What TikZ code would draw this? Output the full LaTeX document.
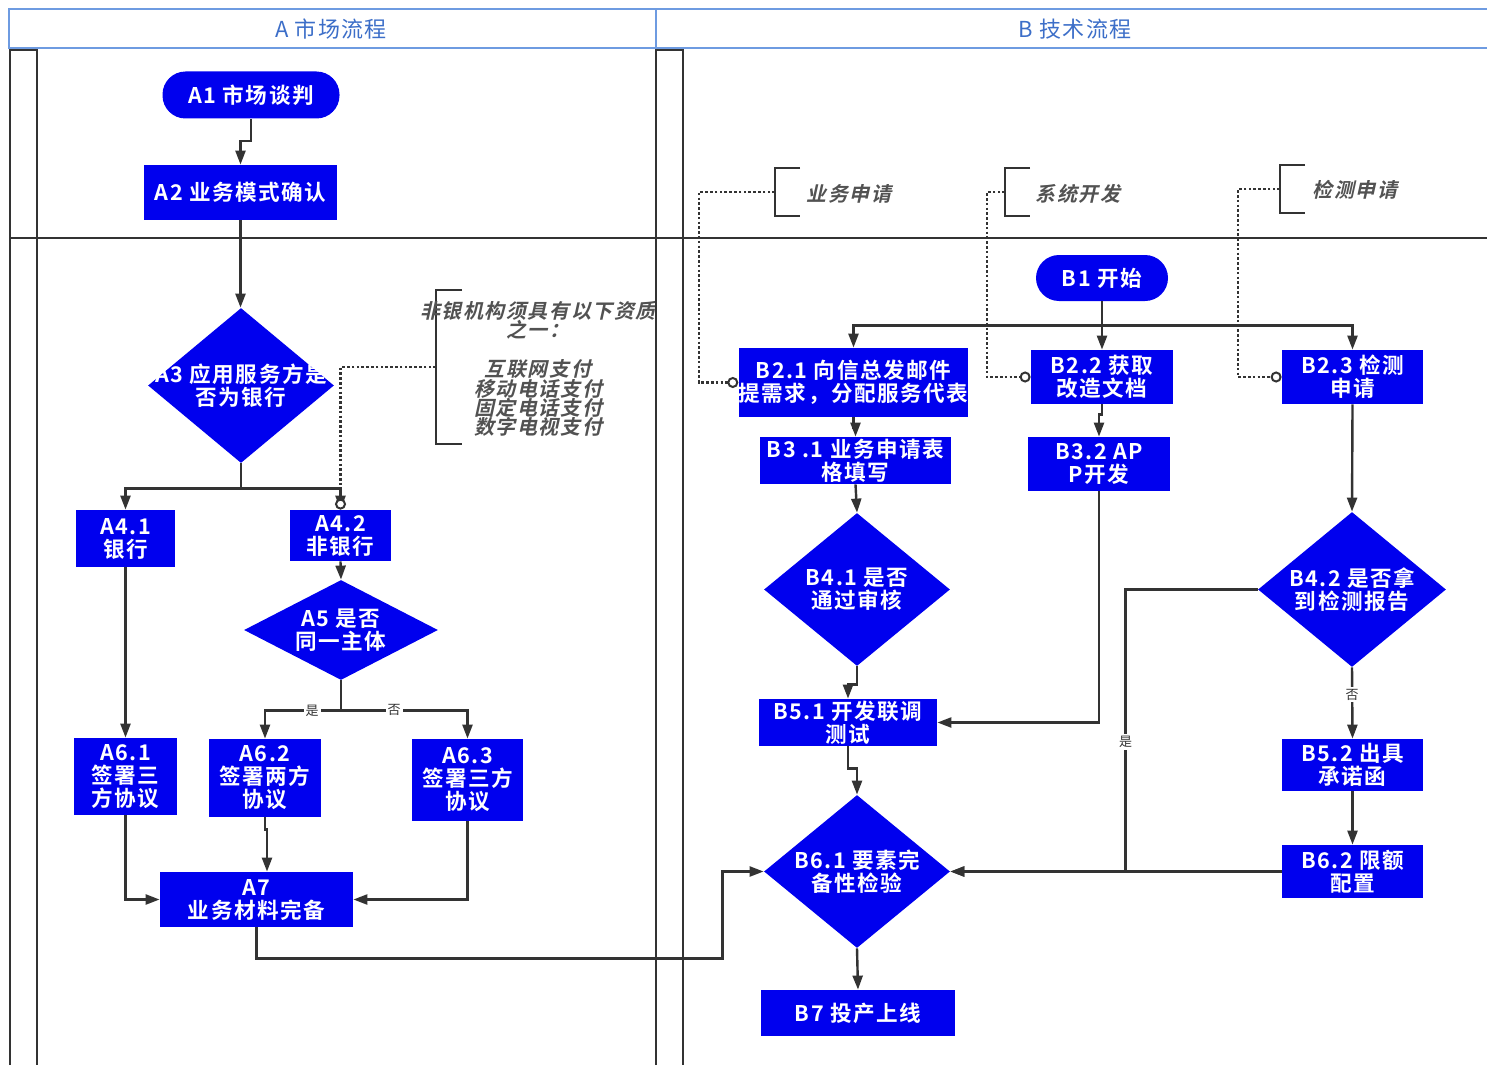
\documentclass[tikz,border=0pt]{standalone}
\usepackage{fontspec}
\setmainfont{Noto Sans CJK SC}
\newfontfamily\boxfont[LetterSpace=7]{Noto Sans CJK SC Bold}
\newfontfamily\notefont[FakeSlant=0.22,LetterSpace=8]{Noto Sans CJK SC Bold}
\newfontfamily\headfont[LetterSpace=6]{Noto Sans CJK SC}
\usetikzlibrary{calc,shapes.geometric,arrows.meta}
\definecolor{boxblue}{RGB}{0,0,238}
\definecolor{headblue}{RGB}{110,155,225}
\definecolor{headtext}{RGB}{60,110,200}
\definecolor{linegray}{RGB}{51,51,51}

\begin{document}
\begin{tikzpicture}[x=0.5pt,y=-0.5pt,
		proc/.style 2 args={rectangle, fill=boxblue, text=white, font=\boxfont\fontsize{10.8}{11.5}\selectfont,
			align=center, inner sep=0pt, minimum width=#1*0.5pt, minimum height=#2*0.5pt},
		term/.style 2 args={proc={#1}{#2}, rounded corners=11.5pt},
		dec/.style 2 args={diamond, fill=boxblue, inner sep=0pt, minimum width=#1*0.5pt, minimum height=#2*0.5pt},
		dtext/.style={text=white, font=\boxfont\fontsize{10.8}{11.5}\selectfont, align=center},
		arr/.style={draw=linegray, line width=1.2pt, -{Triangle[length=7pt,width=5pt]}},
		dots/.style={draw=linegray, line width=1.3pt, dash pattern=on 1.3pt off 1.1pt,
			-{Circle[open,fill=white,length=5.5pt,line width=1pt]}},
		brk/.style={draw=linegray, line width=1.4pt},
		note/.style={text=linegray!85, font=\notefont\fontsize{10}{9.7}\selectfont, align=center},
		yn/.style={fill=white, inner sep=1pt, text=linegray, font=\fontsize{6.5}{6.5}\selectfont},
		lane/.style={draw=linegray, line width=1.1pt}]
		\useasboundingbox (0,0) rectangle (1487,1065);

		% header and pool
		\draw[headblue, line width=0.8pt] (1487,9) -- (9,9) -- (9,48) -- (1487,48);
		\draw[headblue, line width=0.8pt] (656,9) -- (656,48);
		\node[text=headtext, font=\headfont\fontsize{11}{11}\selectfont] (hA) at (331,29) {A 市场流程};
		\node[text=headtext, font=\headfont\fontsize{11}{11}\selectfont] (hB) at (1075,29) {B 技术流程};
		\draw[lane] (10,1065) -- (10,50) -- (37,50) -- (37,1065);
		\draw[lane] (656,1065) -- (656,50) -- (683,50) -- (683,1065);
		\draw[lane] (10,238) -- (1487,238);

		% market lane
		\node[term={177}{47}] (A1) at (251,95) {A1 市场谈判};
		\node[proc={193}{55}] (A2) at (240.5,192.5) {A2 业务模式确认};
		\node[dec={186}{155}, label={[dtext]center:A3 应用服务方是\\否为银行}] (A3) at (241,385.5) {};
		\node[proc={99}{57}] (A41) at (125.5,538.5) {A4.1\\银行};
		\node[proc={101}{51}] (A42) at (340.5,535.5) {A4.2\\非银行};
		\node[dec={194}{100}, label={[dtext]center:A5 是否\\同一主体}] (A5) at (341,630) {};
		\node[proc={103}{77}] (A61) at (125.5,776.5) {A6.1\\签署三\\方协议};
		\node[proc={112}{78}] (A62) at (265,778) {A6.2\\签署两方\\协议};
		\node[proc={111}{82}] (A63) at (467.5,780) {A6.3\\签署三方\\协议};
		\node[proc={193}{55}] (A7) at (256.5,899.5) {A7\\业务材料完备};

		\coordinate (nA) at (436,367);
		\draw[brk] ($(nA)+(26,-77)$) -- ++(-26,0) -- ++(0,154) -- ++(26,0);
		\begin{scope}
			\clip (380,280) rectangle (654,460);
			\node[note] (tA) at (538,369) {非银机构须具有以下资质\\之一：\\~\\互联网支付\\移动电话支付\\固定电话支付\\数字电视支付};
		\end{scope}

		\draw[arr] (A1.south) -- ++(0,22) -| (A2.north);
		\draw[arr] (A2.south) -- (A2.south |- A3.north);
		\draw[arr] (A3.south) -- ++(0,25) coordinate (a3s) -| (A41.north);
		\draw[arr] (a3s) -| (A42.north);
		\draw[dots] (nA) -| (A42.north);
		\draw[arr] (A42.south) -- (A5.north);
		\draw[arr] (A41.south) -- (A61.north);
		\draw[arr] (A5.south) -- ++(0,30) coordinate (a5s) -| node[yn, pos=0.19] (y1) {是} (A62.north);
		\draw[arr] (a5s) -| node[yn, pos=0.21] (n1) {否} (A63.north);
		\draw[arr] (A61.south) |- (A7.west);
		\draw[arr] (A62.south) -- ++(0,12) -| ([xshift=1pt]A62.south |- A7.north);
		\draw[arr] (A63.south) |- (A7.east);

		% tech lane
		\node[term={132}{46}] (B1) at (1102,278) {B1 开始};
		\node[proc={225}{69}] (B21) at (853.5,382.5) {B2.1 向信总发邮件\\提需求，分配服务代表};
		\node[proc={142}{54}] (B22) at (1102,377) {B2.2 获取\\改造文档};
		\node[proc={141}{54}] (B23) at (1352.5,377) {B2.3 检测\\申请};
		\node[proc={191}{47}] (B31) at (855.5,460.5) {B3 .1 业务申请表\\格填写};
		\node[proc={142}{54}] (B32) at (1099,464) {B3.2 AP\\P开发};
		\node[dec={186}{153}, label={[dtext]center:B4.1 是否\\通过审核}] (B41) at (857,589.5) {};
		\node[dec={188}{155}, label={[dtext]center:B4.2 是否拿\\到检测报告}] (B42) at (1352,589.5) {};
		\node[proc={178}{47}] (B51) at (848,722.5) {B5.1 开发联调\\测试};
		\node[proc={141}{52}] (B52) at (1352.5,765) {B5.2 出具\\承诺函};
		\node[dec={186}{153}, label={[dtext]center:B6.1 要素完\\备性检验}] (B61) at (857,871.5) {};
		\node[proc={141}{53}] (B62) at (1352.5,871.5) {B6.2 限额\\配置};
		\node[proc={194}{46}] (B7) at (858,1013) {B7 投产上线};

		\coordinate (nB1) at (775,192);
		\coordinate (nB2) at (1005,192);
		\coordinate (nB3) at (1280,189);
		\draw[brk] ($(nB1)+(25,-24)$) -- ++(-25,0) -- ++(0,48) -- ++(25,0);
		\draw[brk] ($(nB2)+(25,-24)$) -- ++(-25,0) -- ++(0,48) -- ++(25,0);
		\draw[brk] ($(nB3)+(25,-24)$) -- ++(-25,0) -- ++(0,48) -- ++(25,0);
		\node[note] (tB1) at (849,194) {业务申请};
		\node[note] (tB2) at (1078,194) {系统开发};
		\node[note] (tB3) at (1355,190) {检测申请};
		\draw[dots] (nB1) -- ++(-76,0) |- (B21.west);
		\draw[dots] (nB2) -- ++(-18,0) |- (B22.west);
		\draw[dots] (nB3) -- ++(-42,0) |- (B23.west);

		\draw[arr] (B1.south) -- ++(0,24) coordinate (b1s) -| (B21.north);
		\draw[arr] (b1s) -- (B22.north);
		\draw[arr] (b1s) -| (B23.north);
		\draw[arr] (B21.south) -- ++(0,10) -| (B31.north);
		\draw[arr] (B22.south) -- ++(0,10) -| (B32.north);
		\draw[arr] (B31.south) -- (B41.north);
		\draw[arr] (B41.south) -- ++(0,18) -| (B51.north);
		\draw[arr] (B32.south) |- (B51.east);
		\draw[arr] (B51.south) -- ++(0,22) -| (B61.north);
		\draw[arr] (B23.south) -- (B42.north);
		\draw[arr] (B42.south) -- node[yn, pos=0.38] (n2) {否} (B52.north);
		\draw[arr] (B52.south) -- (B62.north);
		\draw[arr] (B62.west) -- (B61.east);
		\draw[arr] (B42.west) -- ++(-132,0) |- node[yn, pos=0.27] (y2) {是} (B61.east);
		\draw[arr] (B61.south) -- (B7.north);
		\draw[arr] (A7.south) -- ++(0,31) -- ++(466,0) |- (B61.west);
	\end{tikzpicture}
\end{document}
